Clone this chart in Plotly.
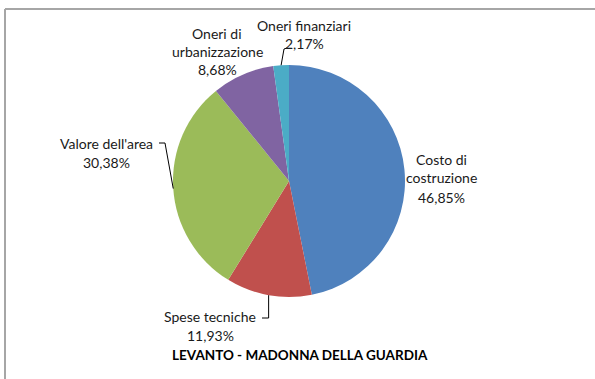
import math
import plotly.graph_objects as go

# Cost breakdown (percent of total)
categories = ["Costo di costruzione", "Spese tecniche", "Valore dell'area",
              "Oneri di urbanizzazione", "Oneri finanziari"]
shares = [46.85, 11.93, 30.38, 8.68, 2.17]
colors = ["#4F81BD", "#C0504D", "#9BBB59", "#8064A2", "#4BACC6"]
chart_title = "LEVANTO - MADONNA DELLA GUARDIA"

# Label text lines (category name wrapped as in the report)
name_lines = [["Costo di", "costruzione"], ["Spese tecniche"], ["Valore dell'area"],
              ["Oneri di", "urbanizzazione"], ["Oneri finanziari"]]

# Page geometry in pixels
W, H = 595, 379
CX, CY, R = 289, 181, 116
FONT = "Lato, 'Open Sans', sans-serif"


def px(x):
    return x / W


def py(y):
    return 1 - y / H


def fmt_pct(v):
    return f"{v:.2f}".replace(".", ",") + "%"


def edge_point(i, frac=0.5):
    """Point on the pie rim at a fraction through slice i (clockwise from 12 o'clock)."""
    total = sum(shares)
    start = sum(shares[:i])
    ang = 2 * math.pi * (start + frac * shares[i]) / total
    return CX + R * math.sin(ang), CY - R * math.cos(ang)


fig = go.Figure(go.Pie(
    labels=categories,
    values=shares,
    sort=False,
    direction="clockwise",
    rotation=0,
    marker=dict(colors=colors, line=dict(width=0)),
    textinfo="none",
    hoverinfo="label+percent",
    domain=dict(x=[px(CX - R), px(CX + R)], y=[py(CY + R), py(CY - R)]),
))

# Label placement: centre x, y of each text line
label_layout = [
    (441, [160, 178, 197]),
    (210, [316, 335]),
    (106, [143, 162]),
    (217, [33, 52, 70]),
    (304, [26, 44]),
]

annotations = []
for i, (lx, ys) in enumerate(label_layout):
    lines = name_lines[i] + [fmt_pct(shares[i])]
    for text, y in zip(lines, ys):
        annotations.append(dict(
            x=px(lx), y=py(y), xref="paper", yref="paper", text=text,
            showarrow=False, xanchor="center", yanchor="middle",
            font=dict(family=FONT, size=14, color="#1a1a1a"),
        ))

annotations.append(dict(
    x=px(300), y=py(355), xref="paper", yref="paper", text=f"<b>{chart_title}</b>",
    showarrow=False, xanchor="center", yanchor="middle",
    font=dict(family=FONT, size=13.5, color="#000000"),
))

shapes = []


def polyline(points):
    path = "M " + " L ".join(f"{px(x)},{py(y)}" for x, y in points)
    shapes.append(dict(type="path", path=path, xref="paper", yref="paper",
                       line=dict(color="#000000", width=1)))


# Leader lines from slice rims to their labels
polyline([edge_point(1), (edge_point(1)[0], 318), (262, 318)])
polyline([edge_point(2), (165, 143), (159, 143)])
polyline([edge_point(4), (284, 49), (287, 48)])

# Chart-area frame (top and left edges)
shapes.append(dict(type="line", xref="paper", yref="paper",
                   x0=px(5), y0=py(9), x1=1.0, y1=py(9),
                   line=dict(color="#A6A6A6", width=2)))
shapes.append(dict(type="line", xref="paper", yref="paper",
                   x0=px(5), y0=py(9), x1=px(5), y1=0.0,
                   line=dict(color="#A6A6A6", width=2)))

fig.update_layout(
    width=W, height=H,
    margin=dict(l=0, r=0, t=0, b=0),
    paper_bgcolor="white",
    plot_bgcolor="white",
    showlegend=False,
    annotations=annotations,
    shapes=shapes,
)

fig.write_html("out.html")
